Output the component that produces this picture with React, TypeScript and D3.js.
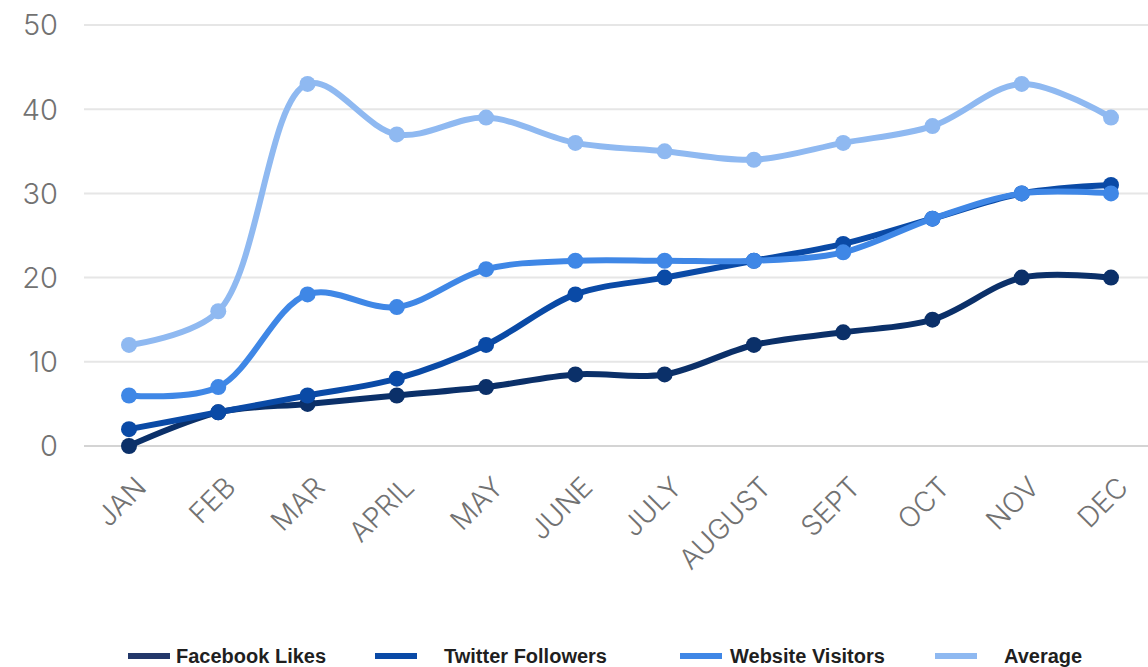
import React from "react";
import * as d3 from "d3";

const months = ["JAN", "FEB", "MAR", "APRIL", "MAY", "JUNE", "JULY", "AUGUST", "SEPT", "OCT", "NOV", "DEC"];
const facebookLikes = [0, 4, 5, 6, 7, 8.5, 8.5, 12, 13.5, 15, 20, 20];
const twitterFollowers = [2, 4, 6, 8, 12, 18, 20, 22, 24, 27, 30, 31];
const websiteVisitors = [6, 7, 18, 16.5, 21, 22, 22, 22, 23, 27, 30, 30];
const average = [12, 16, 43, 37, 39, 36, 35, 34, 36, 38, 43, 39];
const yTicks = [0, 10, 20, 30, 40, 50];

const seriesNames = ["Facebook Likes", "Twitter Followers", "Website Visitors", "Average"];
const seriesValues = [facebookLikes, twitterFollowers, websiteVisitors, average];
const seriesColors = ["#0b3069", "#0a4aa6", "#3f87e6", "#8fb9f1"];
const legendColors = ["#23386a", "#0a4aa6", "#3f87e6", "#8fb9f1"];

const W = 1148;
const H = 667;

export default function App() {
  const x = d3.scalePoint<string>().domain(months).range([129, 1111]);
  const y = d3.scaleLinear().domain([0, 50]).range([446, 25]);
  const line = d3
    .line<number>()
    .x((_, i) => x(months[i]) as number)
    .y((d) => y(d))
    .curve(d3.curveCatmullRom.alpha(0.5));

  const legendX = [128, 375, 680, 935];
  const legendTextX = [176, 444, 730, 1004];

  return (
    <svg width={W} height={H} style={{ position: "absolute", left: 0, top: 0, background: "#fff" }}>
      {yTicks.map((t) => (
        <g key={t}>
          <line x1={84} x2={W} y1={y(t)} y2={y(t)} stroke={t === 0 ? "#d4d4d4" : "#e6e6e6"} strokeWidth={2} />
          <text
            x={58}
            y={y(t)}
            dy="0.36em"
            textAnchor="end"
            fontFamily="Inter, 'Open Sans', sans-serif"
            fontWeight={300}
            fontSize={29}
            fill="#727272"
          >
            {t}
          </text>
        </g>
      ))}
      {months.map((m) => {
        const px = (x(m) as number) + 19;
        const py = 489;
        return (
          <text
            key={m}
            x={px}
            y={py}
            transform={`rotate(-45 ${px} ${py})`}
            textAnchor="end"
            fontFamily="Inter, 'Open Sans', sans-serif"
            fontWeight={300}
            fontSize={28}
            fill="#727272"
          >
            {m}
          </text>
        );
      })}
      {seriesValues.map((vals, si) => (
        <g key={si}>
          <path d={line(vals) || ""} fill="none" stroke={seriesColors[si]} strokeWidth={6} strokeLinejoin="round" />
          {vals.map((v, i) => (
            <circle key={i} cx={x(months[i]) as number} cy={y(v)} r={8} fill={seriesColors[si]} />
          ))}
        </g>
      ))}
      {seriesNames.map((n, i) => (
        <g key={n}>
          <line x1={legendX[i]} x2={legendX[i] + 42} y1={656} y2={656} stroke={legendColors[i]} strokeWidth={6} />
          <text
            x={legendTextX[i]}
            y={656}
            dy="0.36em"
            fontFamily="'Liberation Sans', Arial, sans-serif"
            fontWeight={700}
            fontSize={20}
            fill="#1f1f1f"
          >
            {n}
          </text>
        </g>
      ))}
    </svg>
  );
}
